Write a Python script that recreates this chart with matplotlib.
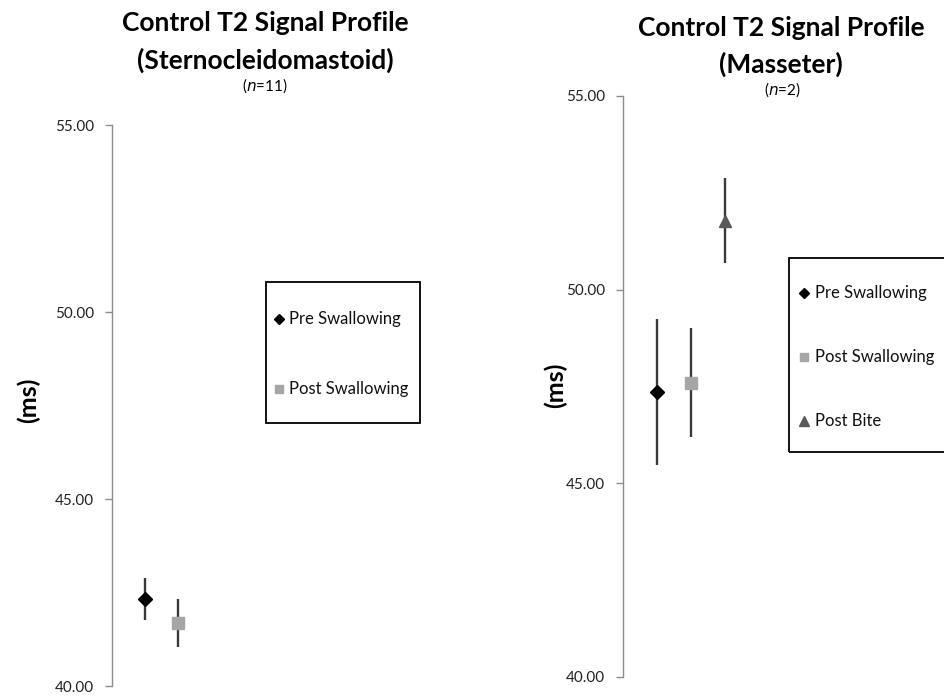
import matplotlib.pyplot as plt
from matplotlib.lines import Line2D
from matplotlib.patches import Rectangle
from matplotlib.ticker import FormatStrFormatter

plt.rcParams["font.family"] = ["Lato", "DejaVu Sans"]

# Sternocleidomastoid, n=11
scm_labels = ["Pre Swallowing", "Post Swallowing"]
scm_mean = [42.33, 41.68]
scm_err = [0.57, 0.64]

# Masseter, n=2
mas_labels = ["Pre Swallowing", "Post Swallowing", "Post Bite"]
mas_mean = [47.36, 47.60, 51.78]
mas_err = [1.88, 1.40, 1.10]

markers = ["D", "s", "^"]
colors = ["#000000", "#a6a6a6", "#595959"]
sizes = [7, 8, 9]
bar_color = "#3a3a3a"
spine_color = "#8c8c8c"

W, H = 944, 700


def px(x, y):
    # pixel position (from top-left) -> figure fraction
    return x / W, 1 - y / H


def draw_panel(ax, means, errs, xmax):
    for i, (m, e) in enumerate(zip(means, errs)):
        ax.errorbar(i + 1, m, yerr=e, fmt="none", ecolor=bar_color,
                    elinewidth=1.7, capsize=0, zorder=2)
        ax.plot(i + 1, m, marker=markers[i], color=colors[i],
                markersize=sizes[i], linestyle="none", zorder=3)

    ax.set_xlim(0, xmax)
    ax.set_ylim(40, 55)
    ax.set_yticks([40, 45, 50, 55])
    ax.yaxis.set_major_formatter(FormatStrFormatter("%.2f"))
    ax.set_xticks([])
    for side in ["top", "right", "bottom"]:
        ax.spines[side].set_visible(False)
    ax.spines["left"].set_color(spine_color)
    ax.spines["left"].set_linewidth(1.0)
    ax.tick_params(axis="y", direction="out", length=5, width=1.0,
                   color=spine_color, labelsize=11, pad=8,
                   labelcolor="#222222")


def draw_key(fig, box, marker_x, text_x, rows, labels):
    x0, y0, x1, y1 = box
    fx0, fy1 = px(x0, y1)
    fx1, fy0 = px(x1, y0)
    fig.patches.append(Rectangle((fx0, fy1), fx1 - fx0, fy0 - fy1,
                                 transform=fig.transFigure, fill=False,
                                 edgecolor="#000000", linewidth=1.3))
    for i, (ry, lab) in enumerate(zip(rows, labels)):
        mx, my = px(marker_x, ry)
        fig.add_artist(Line2D([mx], [my], marker=markers[i],
                              color=colors[i], markersize=sizes[i] - 2,
                              linestyle="none", transform=fig.transFigure))
        tx, ty = px(text_x, ry)
        fig.text(tx, ty, lab, ha="left", va="center", fontsize=12,
                 color="#111111")


fig = plt.figure(figsize=(9.44, 7.0), dpi=100)

ax1 = fig.add_axes([0.1186, 0.02, 0.367, 0.8014])
draw_panel(ax1, scm_mean, scm_err, 10.5)

ax2 = fig.add_axes([0.66, 0.033, 0.34, 0.83])
draw_panel(ax2, mas_mean, mas_err, 9.44)

# legends
draw_key(fig, (266, 282, 420, 423), 279, 289, [319, 389], scm_labels)
draw_key(fig, (789, 258, 960, 452), 804, 815, [293, 357, 421], mas_labels)

# axis labels
fig.text(*px(28, 400), "(ms)", rotation=90, ha="center", va="center",
         fontsize=18, fontweight="bold")
fig.text(*px(555, 385), "(ms)", rotation=90, ha="center", va="center",
         fontsize=18, fontweight="bold")

# titles
fig.text(*px(265, 23), "Control T2 Signal Profile", ha="center",
         va="center", fontsize=19, fontweight="bold")
fig.text(*px(265, 60), "(Sternocleidomastoid)", ha="center", va="center",
         fontsize=19, fontweight="bold")
fig.text(*px(265, 86), "($n$=11)", ha="center", va="center", fontsize=11)

fig.text(*px(781, 28), "Control T2 Signal Profile", ha="center",
         va="center", fontsize=19, fontweight="bold")
fig.text(*px(781, 64), "(Masseter)", ha="center", va="center",
         fontsize=19, fontweight="bold")
fig.text(*px(782, 90), "($n$=2)", ha="center", va="center", fontsize=11)

fig.savefig("out.png", dpi=100)
